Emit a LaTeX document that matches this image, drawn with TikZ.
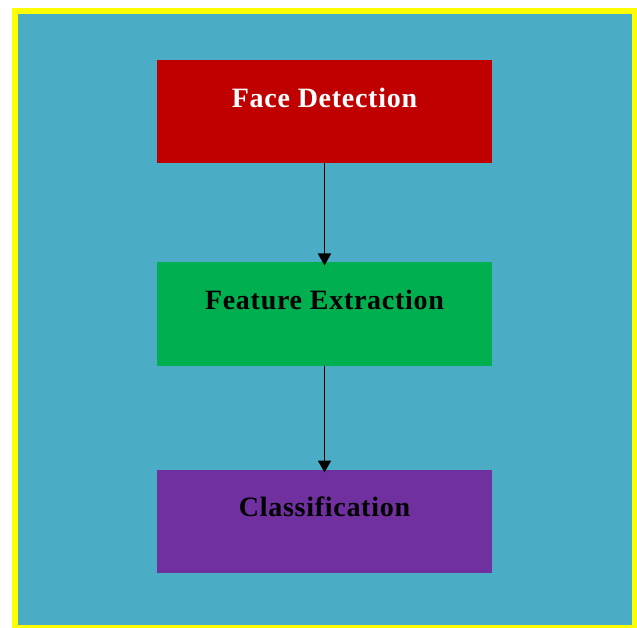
\documentclass[tikz,border=0pt]{standalone}
\usepackage{fontspec}
\setmainfont{Liberation Serif}[LetterSpace=2.6]
\usetikzlibrary{arrows.meta}
\definecolor{bgblue}{HTML}{4BACC6}
\definecolor{boxred}{HTML}{C00000}
\definecolor{boxgreen}{HTML}{00B050}
\definecolor{boxpurple}{HTML}{7030A0}
\definecolor{frameyellow}{HTML}{FFFF00}
\tikzset{
  stagebox/.style={draw=none, minimum width=335pt, minimum height=103pt, inner sep=0pt, outer sep=0pt},
  stagetext/.style={font=\fontsize{28}{32}\selectfont\bfseries, inner sep=0pt},
  flow/.style={-{Triangle[length=12pt,width=13pt]}, line width=1.8pt, black, shorten >=-3pt}
}
\begin{document}
\begin{tikzpicture}[x=1pt,y=-1pt]
\useasboundingbox (0,0) rectangle (637,628);
\fill[white] (0,0) rectangle (637,628);
\fill[frameyellow] (12,8) rectangle (637,628);
\fill[bgblue] (18,14) rectangle (632,625);
\node[stagebox, fill=boxred] (fd) at (324.5,111.5) {};
\node[stagebox, fill=boxgreen] (fe) at (324.5,314) {};
\node[stagebox, fill=boxpurple] (cl) at (324.5,521) {};
\node[stagetext, text=white] (fdt) at ([yshift=14pt]fd.center) {Face Detection};
\node[stagetext, text=black] (fet) at ([yshift=14pt]fe.center) {Feature Extraction};
\node[stagetext, text=black] (clt) at ([yshift=14pt]cl.center) {Classification};
\draw[flow] (fd.south) -- (fe.north);
\draw[flow] (fe.south) -- (cl.north);
\end{tikzpicture}
\end{document}
